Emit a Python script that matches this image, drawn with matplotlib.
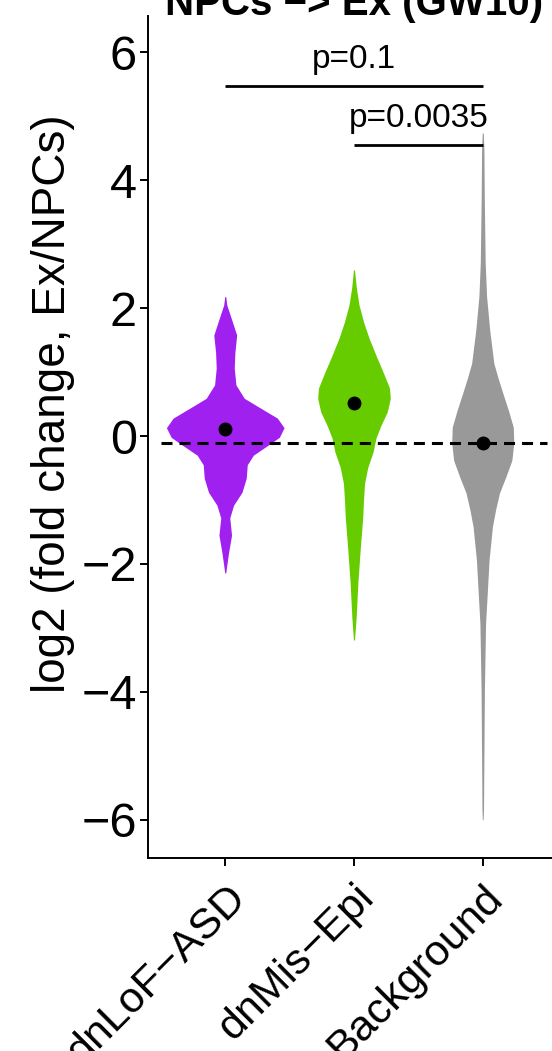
import matplotlib
matplotlib.use("Agg")
import matplotlib.pyplot as plt

plt.rcParams['font.family'] = ['Liberation Sans', 'DejaVu Sans']

groups = ['dnLoF\u2212ASD', 'dnMis\u2212Epi', 'Background']
colors = ['#A020F0', '#66CC00', '#999999']
medians = [0.11, 0.52, -0.11]

# violin outlines: log2FC value, half width (x units)
asd_y = [2.18, 2.05, 1.85, 1.58, 1.31, 1.06, 0.80, 0.59, 0.44, 0.28, 0.13, -0.02,
         -0.14, -0.30, -0.45, -0.66, -0.88, -1.08, -1.28, -1.55, -1.82, -2.02, -2.14]
asd_w = [0.004, 0.012, 0.045, 0.089, 0.075, 0.070, 0.083, 0.148, 0.272, 0.405, 0.457, 0.420,
         0.335, 0.218, 0.171, 0.163, 0.130, 0.065, 0.035, 0.049, 0.026, 0.012, 0.004]

epi_y = [2.60, 2.32, 2.05, 1.78, 1.53, 1.27, 1.00, 0.75, 0.59, 0.38, 0.17, -0.03,
         -0.25, -0.49, -0.74, -1.00, -1.27, -1.78, -2.30, -2.83, -3.19]
epi_w = [0.004, 0.018, 0.039, 0.075, 0.117, 0.169, 0.226, 0.276, 0.282, 0.259, 0.210, 0.171,
         0.148, 0.107, 0.082, 0.074, 0.068, 0.048, 0.030, 0.017, 0.004]

bg_y = [4.74, 4.48, 3.74, 2.71, 2.18, 1.66, 1.14, 0.92, 0.67, 0.41, 0.14, -0.11,
        -0.38, -0.64, -0.89, -1.16, -1.42, -1.94, -2.46, -2.93, -3.97, -5.02, -5.85, -6.0]
bg_w = [0.004, 0.009, 0.012, 0.019, 0.030, 0.054, 0.086, 0.117, 0.156, 0.198, 0.237, 0.241,
        0.226, 0.179, 0.130, 0.099, 0.075, 0.049, 0.035, 0.022, 0.013, 0.009, 0.006, 0.003]

profiles = [(asd_y, asd_w), (epi_y, epi_w), (bg_y, bg_w)]

# significance brackets: (from group, to group, height, label)
brackets = [(1, 3, 5.48, 'p=0.1'), (2, 3, 4.55, 'p=0.0035')]
ref_line = -0.11

fig = plt.figure(figsize=(5.52, 10.51), dpi=100)
ax = fig.add_axes([148 / 552, 1 - 858 / 1051, 412 / 552, 842 / 1051])

for i, (yy, ww) in enumerate(profiles):
    pos = i + 1
    left = [pos - w for w in ww]
    right = [pos + w for w in ww]
    ax.fill_betweenx(yy, left, right, color=colors[i], linewidth=0, zorder=2)

ax.plot([0.5, 3.5], [ref_line, ref_line], color='black', lw=2.2,
        dashes=(3.6, 2.3), zorder=3)
ax.plot([1, 2, 3], medians, 'o', color='black', ms=9, zorder=4)

for x0, x1, h, lab in brackets:
    ax.plot([x0, x1], [h, h], color='black', lw=2.0, solid_capstyle='butt')
    ax.text((x0 + x1) / 2, h + 0.17, lab, ha='center', va='bottom', fontsize=24)

ax.set_xlim(0.4, 3.6)
ax.set_ylim(-6.6, 6.57)
ax.set_yticks([-6, -4, -2, 0, 2, 4, 6])
ax.set_yticklabels(['\u22126', '\u22124', '\u22122', '0', '2', '4', '6'])
ax.set_xticks([1, 2, 3])
ax.set_xticklabels(groups, rotation=45, ha='right', va='top', rotation_mode='anchor')
ax.tick_params(length=6, width=1.4, color='black', labelcolor='black')
ax.tick_params(axis='y', labelsize=35, pad=2)
ax.tick_params(axis='x', labelsize=31, pad=8)
for s in ['top', 'right']:
    ax.spines[s].set_visible(False)
for s in ['left', 'bottom']:
    ax.spines[s].set_linewidth(1.4)

ax.set_ylabel('log2 (fold change, Ex/NPCs)', fontsize=33)
ax.yaxis.set_label_coords(-0.178, 0.54)

fig.text(354 / 552, 1 - 15 / 1051, 'NPCs \u2212> Ex (GW10)', ha='center', va='baseline',
         fontsize=29, fontweight='bold')

fig.savefig('out.png', dpi=100)
